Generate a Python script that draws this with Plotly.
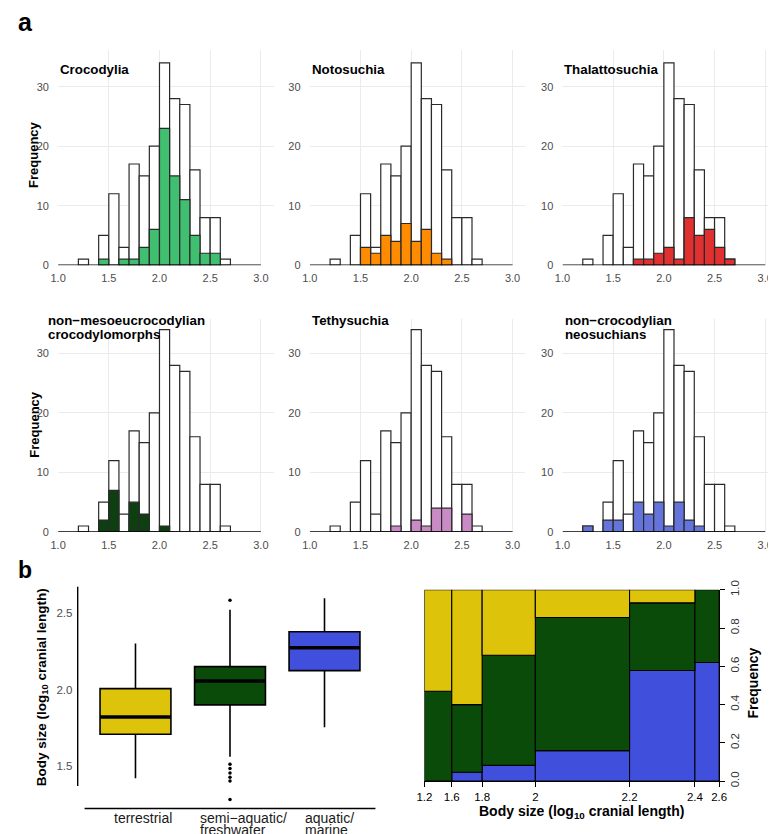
import plotly.graph_objects as go

W, H = 776, 834
FONT = "Liberation Sans, Arial, sans-serif"

# ---------------- data: panel a (histograms) ----------------
bin_starts = [1.2, 1.3, 1.4, 1.5, 1.6, 1.7, 1.8, 1.9, 2.0, 2.1, 2.2, 2.3, 2.4, 2.5, 2.6]
bin_width = 0.1
total_counts = [1, 0, 5, 12, 3, 17, 15, 20, 34, 28, 27, 16, 8, 8, 1]
crocodylia = [0, 0, 1, 0, 1, 1, 3, 6, 23, 15, 11, 5, 2, 2, 0]
notosuchia = [0, 0, 0, 3, 2, 5, 4, 7, 4, 6, 2, 1, 0, 0, 0]
thalattosuchia = [0, 0, 0, 0, 0, 1, 1, 2, 3, 1, 8, 5, 6, 3, 1]
non_meso = [0, 0, 2, 7, 0, 5, 3, 0, 1, 0, 0, 0, 0, 0, 0]
tethysuchia = [0, 0, 0, 0, 0, 0, 1, 0, 2, 1, 4, 4, 0, 3, 0]
non_croc_neo = [1, 0, 2, 2, 0, 5, 3, 5, 1, 5, 2, 1, 0, 0, 0]
hist_ticks = [1.0, 1.5, 2.0, 2.5, 3.0]
freq_ticks = [0, 10, 20, 30]

panels = [
    (["Crocodylia"], crocodylia, "#3FBF6F"),
    (["Notosuchia"], notosuchia, "#FF8C00"),
    (["Thalattosuchia"], thalattosuchia, "#E0302F"),
    (["non\u2212mesoeucrocodylian", "crocodylomorphs"], non_meso, "#0E3F10"),
    (["Tethysuchia"], tethysuchia, "#C98AC6"),
    (["non\u2212crocodylian", "neosuchians"], non_croc_neo, "#6474DA"),
]

# ---------------- data: panel b (boxplot) ----------------
habitats = [["terrestrial"], ["semi\u2212aquatic/", "freshwater"], ["aquatic/", "marine"]]
habitat_colors = ["#DEC30B", "#0A4B0A", "#4050DD"]
box_low = [1.423, 1.562, 1.756]
box_q1 = [1.710, 1.902, 2.126]
box_med = [1.822, 2.058, 2.276]
box_q3 = [2.008, 2.152, 2.380]
box_high = [2.303, 2.524, 2.598]
outlier_habitat = [1, 1, 1, 1, 1, 1, 1]
outlier_values = [2.585, 1.513, 1.486, 1.457, 1.429, 1.404, 1.284]
box_ticks = [1.5, 2.0, 2.5]

# ---------------- data: panel b (spineplot) ----------------
mosaic_breaks = ["1.2", "1.6", "1.8", "2", "2.2", "2.4", "2.6"]
mosaic_counts = [18, 20, 35, 62, 43, 16]
frac_aquatic = [0.0, 0.046, 0.082, 0.159, 0.578, 0.620]
frac_semi = [0.470, 0.354, 0.576, 0.696, 0.354, 0.380]
frac_terr = [0.530, 0.600, 0.342, 0.145, 0.068, 0.0]
mosaic_yticks = [0.0, 0.2, 0.4, 0.6, 0.8, 1.0]


def px_x(a, b):
    return [max(a, 0) / W, min(b, W) / W]


def px_y(top, bottom):
    return [1 - bottom / H, 1 - top / H]


fig = go.Figure()
layout = {}
annotations = []
shapes = []

PXU_X = 103.5   # px per x unit in histograms
PXU_Y = 6.067   # px per count in histograms
lefts = [43, 300, 558]
rows = [(33, 252), (307, 524)]
centers = [s + bin_width / 2 for s in bin_starts]

for i, (title, counts, color) in enumerate(panels):
    n = i + 1
    xa = "x" if n == 1 else f"x{n}"
    ya = "y" if n == 1 else f"y{n}"
    left = lefts[i % 3]
    right = min(left + 220, W)
    top, bottom = rows[i // 3]
    fig.add_trace(go.Bar(x=centers, y=[c if c > 0 else None for c in total_counts],
                         width=bin_width, marker=dict(color="white", line=dict(color="#2a2a2a", width=1.2)),
                         xaxis=xa, yaxis=ya, showlegend=False))
    fig.add_trace(go.Bar(x=centers, y=[c if c > 0 else None for c in counts],
                         width=bin_width, marker=dict(color=color, line=dict(color="#2a2a2a", width=1.2)),
                         xaxis=xa, yaxis=ya, showlegend=False))
    layout[f"xaxis{n}"] = dict(domain=px_x(left, right), range=[1, 1 + (right - left) / PXU_X],
                               anchor=ya, tickvals=hist_ticks, ticktext=[f"{v:.1f}" for v in hist_ticks],
                               showgrid=True, gridcolor="#EBEBEB", gridwidth=1, zeroline=False,
                               showline=False, ticks="outside", ticklen=3, tickcolor="rgba(0,0,0,0)",
                               tickfont=dict(size=11, color="#4D4D4D"))
    layout[f"yaxis{n}"] = dict(domain=px_y(top, bottom), range=[0, (bottom - top) / PXU_Y],
                               anchor=xa, tickvals=freq_ticks, showgrid=True, gridcolor="#EBEBEB",
                               gridwidth=1, zeroline=False, showline=False, ticks="outside", ticklen=6,
                               tickcolor="rgba(0,0,0,0)", tickfont=dict(size=11, color="#4D4D4D"))
    shapes.append(dict(type="line", xref=xa, yref=ya, x0=hist_ticks[0], x1=hist_ticks[-1], y0=0, y1=0,
                       line=dict(color="black", width=1.4)))
    # panel titles
    if len(title) == 1:
        ycen = [53] if i < 3 else [308]
        xpx = left
    else:
        ycen = [308.5, 322.5]
        xpx = left - 12 if i == 3 else left + 1
    for t, yc in zip(title, ycen):
        annotations.append(dict(text=f"<b>{t}</b>", x=xpx / W, y=1 - yc / H, xref="paper", yref="paper",
                                xanchor="left", yanchor="middle", showarrow=False,
                                font=dict(size=13.3, color="black")))

for yc in [139, 414]:
    annotations.append(dict(text="<b>Frequency</b>", x=18 / W, y=1 - yc / H, xref="paper", yref="paper",
                            xanchor="center", yanchor="middle", textangle=-90, showarrow=False,
                            font=dict(size=13, color="black")))

# ---------------- boxplot ----------------
box_width = 0.75
for k in range(3):
    fig.add_trace(go.Box(x=[k], q1=[box_q1[k]], median=[box_med[k]], q3=[box_q3[k]],
                         lowerfence=[box_low[k]], upperfence=[box_high[k]], width=box_width,
                         whiskerwidth=0, boxpoints=False, fillcolor=habitat_colors[k],
                         line=dict(color="black", width=1.6), xaxis="x7", yaxis="y7", showlegend=False))
    fig.add_trace(go.Scatter(x=[k - box_width / 2, k + box_width / 2], y=[box_med[k], box_med[k]],
                             mode="lines", line=dict(color="black", width=3.5), xaxis="x7", yaxis="y7",
                             showlegend=False, hoverinfo="skip"))
fig.add_trace(go.Scatter(x=outlier_habitat, y=outlier_values, mode="markers",
                         marker=dict(color="black", size=3.5), xaxis="x7", yaxis="y7", showlegend=False))

bx0, bx1 = 63, 367
by0, by1 = 580, 806
pxu_bx = 96.5
pxu_by = 156.0
x7min = 0 - (122 - bx0) / pxu_bx
layout["xaxis7"] = dict(domain=px_x(bx0, bx1), range=[x7min, x7min + (bx1 - bx0) / pxu_bx], anchor="y7",
                        showgrid=False, zeroline=False, showline=False, showticklabels=False, ticks="")
y7max = 2.5 + (607 - by0) / pxu_by
layout["yaxis7"] = dict(domain=px_y(by0, by1), range=[y7max - (by1 - by0) / pxu_by, y7max], anchor="x7",
                        tickvals=box_ticks, ticktext=[f"{v:.1f}" for v in box_ticks], showgrid=False,
                        zeroline=False, showline=False, ticks="outside", ticklen=2,
                        tickcolor="rgba(0,0,0,0)", tickfont=dict(size=11.5, color="#4D4D4D"))
shapes.append(dict(type="line", xref="paper", yref="paper", x0=bx0 / W, x1=bx0 / W,
                   y0=1 - 783 / H, y1=1 - by0 / H, line=dict(color="black", width=1.4)))
shapes.append(dict(type="line", xref="paper", yref="paper", x0=70 / W, x1=bx1 / W,
                   y0=1 - by1 / H, y1=1 - by1 / H, line=dict(color="black", width=1.4)))
label_shift = [-23, -32, -22]
for k, lines in enumerate(habitats):
    for j, t in enumerate(lines):
        annotations.append(dict(text=t, x=k, xref="x7", y=1 - (815.8 + 12.3 * j) / H, yref="paper",
                                xanchor="left", xshift=label_shift[k], yanchor="middle", showarrow=False,
                                font=dict(size=14, color="#1a1a1a")))
annotations.append(dict(text="<b>Body size (log<sub>10</sub> cranial length)</b>", x=27 / W, y=1 - 682 / H,
                        xref="paper", yref="paper", xanchor="center", yanchor="middle", textangle=-90,
                        showarrow=False, font=dict(size=13.5, color="black")))

# ---------------- spineplot ----------------
cum = [0]
for c in mosaic_counts:
    cum.append(cum[-1] + c)
mids = [(cum[i] + cum[i + 1]) / 2 for i in range(len(mosaic_counts))]
base_semi = frac_aquatic
base_terr = [a + s for a, s in zip(frac_aquatic, frac_semi)]
for fr, base, col in [(frac_aquatic, [0] * len(mids), habitat_colors[2]),
                      (frac_semi, base_semi, habitat_colors[1]),
                      (frac_terr, base_terr, habitat_colors[0])]:
    fig.add_trace(go.Bar(x=mids, y=[f if f > 0 else None for f in fr], base=base, width=mosaic_counts,
                         marker=dict(color=col, line=dict(color="black", width=1.1)),
                         xaxis="x8", yaxis="y8", showlegend=False))
mx0, mx1 = 417, 718
my0, my1 = 583, 778
layout["xaxis8"] = dict(domain=px_x(mx0, mx1), range=[0, cum[-1]], anchor="y8", tickvals=cum,
                        ticktext=mosaic_breaks, showgrid=False, zeroline=False, showline=True,
                        linecolor="black", linewidth=1, ticks="outside", ticklen=5, tickcolor="black",
                        tickfont=dict(size=11.5, color="black"))
layout["yaxis8"] = dict(domain=px_y(my0, my1), range=[0, 1], anchor="x8", side="right",
                        tickvals=mosaic_yticks, ticktext=[f"{v:.1f}" for v in mosaic_yticks],
                        tickangle=-90, showgrid=False, zeroline=False, showline=True, linecolor="black",
                        linewidth=1, ticks="outside", ticklen=5, tickcolor="black",
                        tickfont=dict(size=11.5, color="#333333"))
annotations.append(dict(text="<b>Body size (log<sub>10</sub> cranial length)</b>", x=577 / W, y=1 - 810 / H,
                        xref="paper", yref="paper", xanchor="center", yanchor="middle", showarrow=False,
                        font=dict(size=14, color="black")))
annotations.append(dict(text="<b>Frequency</b>", x=753 / W, y=1 - 678 / H, xref="paper", yref="paper",
                        xanchor="center", yanchor="middle", textangle=-90, showarrow=False,
                        font=dict(size=14, color="black")))

# panel letters
annotations.append(dict(text="<b>a</b>", x=0, y=1 - 20 / H, xref="paper", yref="paper", xanchor="left",
                        yanchor="bottom", showarrow=False, font=dict(size=25, color="black")))
annotations.append(dict(text="<b>b</b>", x=0, y=1 - 578 / H, xref="paper", yref="paper", xanchor="left",
                        yanchor="bottom", showarrow=False, font=dict(size=23, color="black")))

fig.update_layout(width=W, height=H, margin=dict(l=0, r=0, t=0, b=0), barmode="overlay",
                  paper_bgcolor="white", plot_bgcolor="white", font=dict(family=FONT),
                  annotations=annotations, shapes=shapes, **layout)
fig.write_html("out.html")
